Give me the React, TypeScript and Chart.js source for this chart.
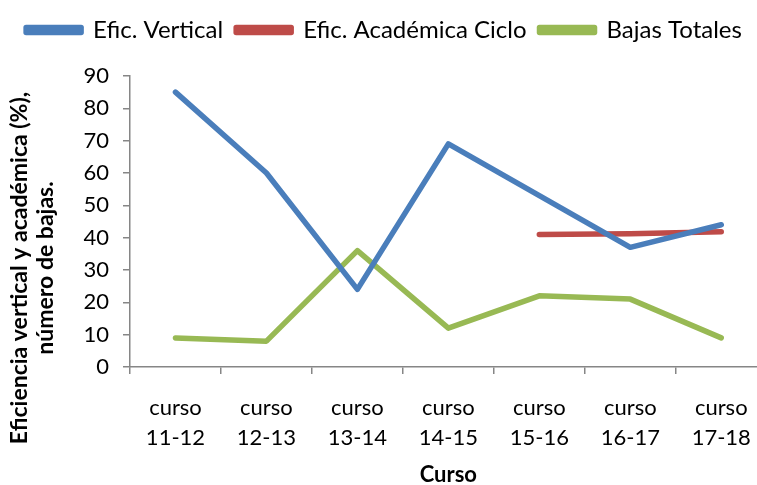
import React, { useEffect, useRef } from "react";
import { Chart, registerables } from "chart.js";

Chart.register(...registerables);

const categories: string[][] = [
  ["curso", "11-12"],
  ["curso", "12-13"],
  ["curso", "13-14"],
  ["curso", "14-15"],
  ["curso", "15-16"],
  ["curso", "16-17"],
  ["curso", "17-18"],
];
const eficVertical: (number | null)[] = [85, 60, 24, 69, 53, 37, 44];
const eficAcademica: (number | null)[] = [null, null, null, null, 41, 41.2, 41.8];
const bajasTotales: (number | null)[] = [9, 8, 36, 12, 22, 21, 9];
const seriesNames: string[] = ["Efic. Vertical", "Efic. Académica Ciclo", "Bajas Totales"];
const yTitleLines: string[] = ["Eficiencia vertical y académica (%),", "número de bajas."];
const xTitle = "Curso";

const FONT = "Lato, 'Open Sans', sans-serif";
const AXIS = "#868686";

export default function App() {
  const ref = useRef<HTMLCanvasElement | null>(null);
  useEffect(() => {
    if (!ref.current) return;
    const legendMargin = {
      id: "legendMargin",
      beforeInit(chart: any) {
        const lg = chart.legend;
        if (!lg) return;
        const origFit = lg.fit;
        lg.fit = function () {
          origFit.call(this);
          this.height += 24;
        };
      },
    };
    const yTitlePlugin = {
      id: "yTitle",
      afterDraw(chart: any) {
        const ctx = chart.ctx;
        ctx.save();
        ctx.fillStyle = "#000";
        ctx.font = `bold 23px ${FONT}`;
        ctx.textAlign = "center";
        ctx.textBaseline = "middle";
        const xs = [20, 46];
        yTitleLines.forEach((t, i) => {
          ctx.save();
          ctx.translate(xs[i], 268);
          ctx.rotate(-Math.PI / 2);
          ctx.fillText(t, 0, 0);
          ctx.restore();
        });
        ctx.restore();
      },
    };
    const chart = new Chart(ref.current, {
      type: "line",
      data: {
        labels: categories,
        datasets: [
          { label: seriesNames[0], data: eficVertical, borderColor: "#4A7EBB", backgroundColor: "#4A7EBB" },
          { label: seriesNames[1], data: eficAcademica, borderColor: "#BE4B48", backgroundColor: "#BE4B48" },
          { label: seriesNames[2], data: bajasTotales, borderColor: "#98B954", backgroundColor: "#98B954" },
        ].map((d) => ({
          ...d,
          borderWidth: 5.5,
          pointRadius: 0,
          pointHoverRadius: 0,
          borderCapStyle: "round" as const,
          borderJoinStyle: "round" as const,
          tension: 0,
          spanGaps: false,
        })),
      },
      options: {
        responsive: false,
        animation: false,
        devicePixelRatio: 1,
        layout: { padding: { left: 0, right: 2, top: 5, bottom: 0 } },
        plugins: {
          tooltip: { enabled: false },
          legend: {
            position: "top",
            labels: {
              boxWidth: 55,
              boxHeight: 5,
              padding: 13,
              color: "#000",
              font: { family: FONT, size: 24 },
            },
          },
        },
        scales: {
          x: {
            offset: true,
            grid: {
              display: true,
              drawOnChartArea: false,
              offset: true,
              tickLength: 7,
              color: AXIS,
              lineWidth: 1.5,
            },
            border: { color: AXIS, width: 1.5 },
            ticks: {
              color: "#000",
              maxRotation: 0,
              autoSkip: false,
              padding: 19,
              font: { family: FONT, size: 22, lineHeight: 1.36 },
            },
            title: {
              display: true,
              text: xTitle,
              color: "#000",
              font: { family: FONT, size: 22, weight: "bold" },
              padding: { top: 0, bottom: -3 },
            },
            afterFit(scale: any) {
              scale.height = 118;
            },
          },
          y: {
            min: 0,
            max: 90,
            grid: {
              display: true,
              drawOnChartArea: false,
              tickLength: 7,
              color: AXIS,
              lineWidth: 1.5,
            },
            border: { color: AXIS, width: 1.5 },
            ticks: {
              stepSize: 10,
              color: "#000",
              padding: 14,
              font: { family: FONT, size: 22 },
            },
            afterFit(scale: any) {
              scale.width = 130;
            },
          },
        },
      },
      plugins: [legendMargin, yTitlePlugin],
    });
    return () => chart.destroy();
  }, []);
  return (
    <div style={{ position: "fixed", left: 0, top: 0, width: 757, height: 485, overflow: "hidden", background: "#fff" }}>
      <canvas ref={ref} width={770} height={485} style={{ display: "block", width: 770, height: 485 }} />
    </div>
  );
}
